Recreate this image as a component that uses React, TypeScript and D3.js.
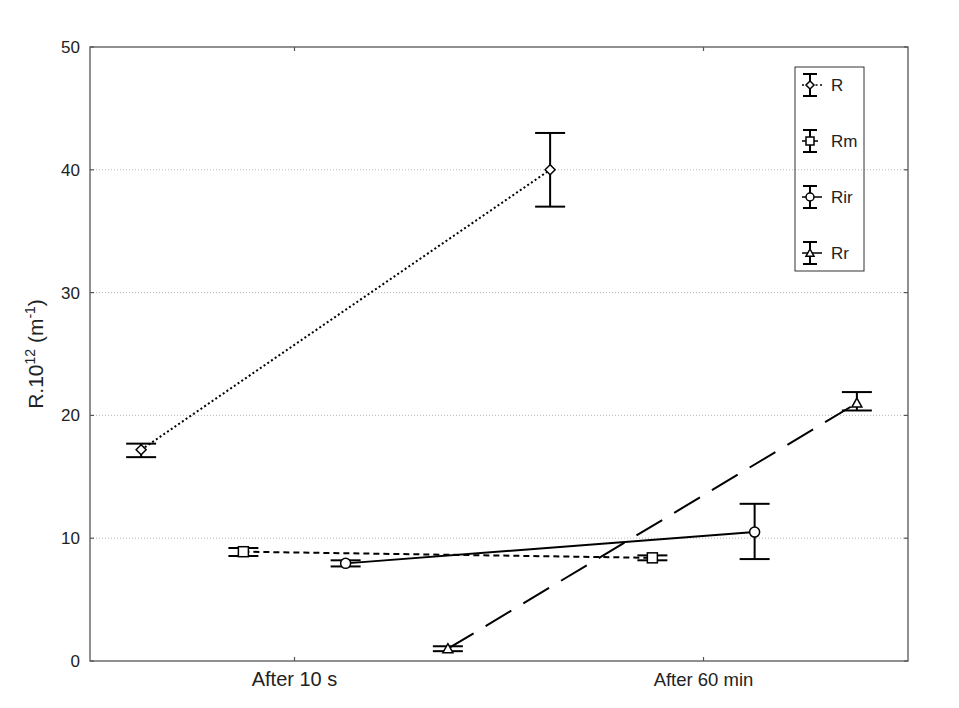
import React from 'react';
import * as d3 from 'd3';

// categories on the x axis
const categories = ['After 10 s', 'After 60 min'];
const seriesNames = ['R', 'Rm', 'Rir', 'Rr'];

// means and error limits, one entry per category
const rMean = [17.2, 40.0];
const rLow = [16.6, 37.0];
const rHigh = [17.7, 43.0];

const rmMean = [8.9, 8.4];
const rmLow = [8.55, 8.2];
const rmHigh = [9.2, 8.6];

const rirMean = [7.95, 10.5];
const rirLow = [7.7, 8.3];
const rirHigh = [8.2, 12.8];

const rrMean = [1.0, 21.0];
const rrLow = [0.8, 20.4];
const rrHigh = [1.2, 21.9];

const yTicks = [0, 10, 20, 30, 40, 50];
const gridTicks = [10, 20, 30, 40];

type Marker = 'diamond' | 'square' | 'circle' | 'triangle';

const series = [
  { name: seriesNames[0], mean: rMean, low: rLow, high: rHigh, marker: 'diamond' as Marker, dash: '2,2.5' },
  { name: seriesNames[1], mean: rmMean, low: rmLow, high: rmHigh, marker: 'square' as Marker, dash: '6,4' },
  { name: seriesNames[2], mean: rirMean, low: rirLow, high: rirHigh, marker: 'circle' as Marker, dash: null },
  { name: seriesNames[3], mean: rrMean, low: rrLow, high: rrHigh, marker: 'triangle' as Marker, dash: '30,14' },
];

const W = 959;
const H = 708;
const margin = { left: 90, right: 51, top: 47, bottom: 47 };
const FONT = '"Liberation Sans", Arial, sans-serif';

const MarkerShape: React.FC<{ type: Marker; x: number; y: number; s: number }> = ({ type, x, y, s }) => {
  const common = { fill: '#fff', stroke: '#000', strokeWidth: 1.5 };
  if (type === 'diamond') {
    return <path d={`M${x},${y - s}L${x + s},${y}L${x},${y + s}L${x - s},${y}Z`} {...common} />;
  }
  if (type === 'square') {
    return <rect x={x - s} y={y - s} width={2 * s} height={2 * s} {...common} />;
  }
  if (type === 'circle') {
    return <circle cx={x} cy={y} r={s} {...common} />;
  }
  return <path d={`M${x},${y - s}L${x + s},${y + s * 0.8}L${x - s},${y + s * 0.8}Z`} {...common} />;
};

export default function App() {
  const x = d3.scalePoint<string>()
    .domain(categories)
    .range([margin.left, W - margin.right])
    .padding(0.5);

  const y = d3.scaleLinear()
    .domain([0, 50])
    .range([H - margin.bottom, margin.top]);

  const dodge = x.step() / 4;
  const x0 = margin.left;
  const x1 = W - margin.right;
  const y0 = H - margin.bottom;
  const y1 = margin.top;
  const cap = 15;

  const line = d3.line<[number, number]>();

  const legendX = 795;
  const legendY = 67;
  const legendRows = d3.scalePoint<string>()
    .domain(seriesNames)
    .range([85, 253]);

  return (
    <svg width={W} height={H} style={{ position: 'absolute', left: 0, top: 0, background: '#fff' }} fontFamily={FONT}>
      {/* gridlines */}
      {gridTicks.map(t => (
        <line key={t} x1={x0} x2={x1} y1={y(t)} y2={y(t)} stroke="#b8b8b8" strokeWidth={1} strokeDasharray="1,2" />
      ))}

      {/* frame */}
      <rect x={x0} y={y1} width={x1 - x0} height={y0 - y1} fill="none" stroke="#555" strokeWidth={1.3} />

      {/* inward ticks */}
      {yTicks.map(t => (
        <g key={t}>
          <line x1={x0} x2={x0 + 4} y1={y(t)} y2={y(t)} stroke="#555" strokeWidth={1.2} />
          <line x1={x1} x2={x1 - 4} y1={y(t)} y2={y(t)} stroke="#555" strokeWidth={1.2} />
          <text x={80} y={y(t)} dy="0.35em" textAnchor="end" fontSize={17} fill="#222">{t}</text>
        </g>
      ))}
      {categories.map((c, i) => (
        <g key={c}>
          <line x1={x(c)} x2={x(c)} y1={y0} y2={y0 - 4} stroke="#555" strokeWidth={1.2} />
          <line x1={x(c)} x2={x(c)} y1={y1} y2={y1 + 4} stroke="#555" strokeWidth={1.2} />
          <text x={x(c)} y={686} textAnchor="middle" fontSize={i === 0 ? 20 : 18.5} fill="#222">{c}</text>
        </g>
      ))}

      {/* y axis title */}
      <text transform={`translate(43,${(y0 + y1) / 2}) rotate(-90)`} textAnchor="middle" fontSize={21} fill="#222">
        R.10<tspan fontSize={14} dy={-8}>12</tspan><tspan dy={8}> (m</tspan><tspan fontSize={14} dy={-8}>-1</tspan><tspan dy={8}>)</tspan>
      </text>

      {/* connecting lines */}
      {series.map((s, si) => {
        const pts = categories.map((c, ci) => [
          (x(c) as number) + (si - 1.5) * dodge,
          y(s.mean[ci]),
        ] as [number, number]);
        return (
          <path key={s.name} d={line(pts) as string} fill="none" stroke="#000" strokeWidth={2}
            strokeDasharray={s.dash ?? undefined} />
        );
      })}

      {/* error bars and markers */}
      {series.map((s, si) => (
        <g key={s.name}>
          {categories.map((c, ci) => {
            const px = (x(c) as number) + (si - 1.5) * dodge;
            const yl = y(s.low[ci]);
            const yh = y(s.high[ci]);
            return (
              <g key={c}>
                <line x1={px} x2={px} y1={yl} y2={yh} stroke="#000" strokeWidth={2} />
                <line x1={px - cap} x2={px + cap} y1={yl} y2={yl} stroke="#000" strokeWidth={2} />
                <line x1={px - cap} x2={px + cap} y1={yh} y2={yh} stroke="#000" strokeWidth={2} />
                <MarkerShape type={s.marker} x={px} y={y(s.mean[ci])} s={5} />
              </g>
            );
          })}
        </g>
      ))}

      {/* legend */}
      <rect x={legendX} y={legendY} width={69} height={204} fill="none" stroke="#333" strokeWidth={1} />
      {series.map(s => {
        const ly = legendRows(s.name) as number;
        const lx = 810;
        return (
          <g key={s.name}>
            <line x1={lx} x2={lx} y1={ly - 11} y2={ly + 11} stroke="#000" strokeWidth={2} />
            <line x1={lx - 7} x2={lx + 7} y1={ly - 11} y2={ly - 11} stroke="#000" strokeWidth={2} />
            <line x1={lx - 7} x2={lx + 7} y1={ly + 11} y2={ly + 11} stroke="#000" strokeWidth={2} />
            <line x1={lx - 8} x2={lx + 12} y1={ly} y2={ly} stroke="#000" strokeWidth={1.5}
              strokeDasharray={s.dash ?? undefined} />
            <MarkerShape type={s.marker} x={lx} y={ly} s={4} />
            <text x={831} y={ly} dy="0.35em" fontSize={17} fill="#222">{s.name}</text>
          </g>
        );
      })}
    </svg>
  );
}
